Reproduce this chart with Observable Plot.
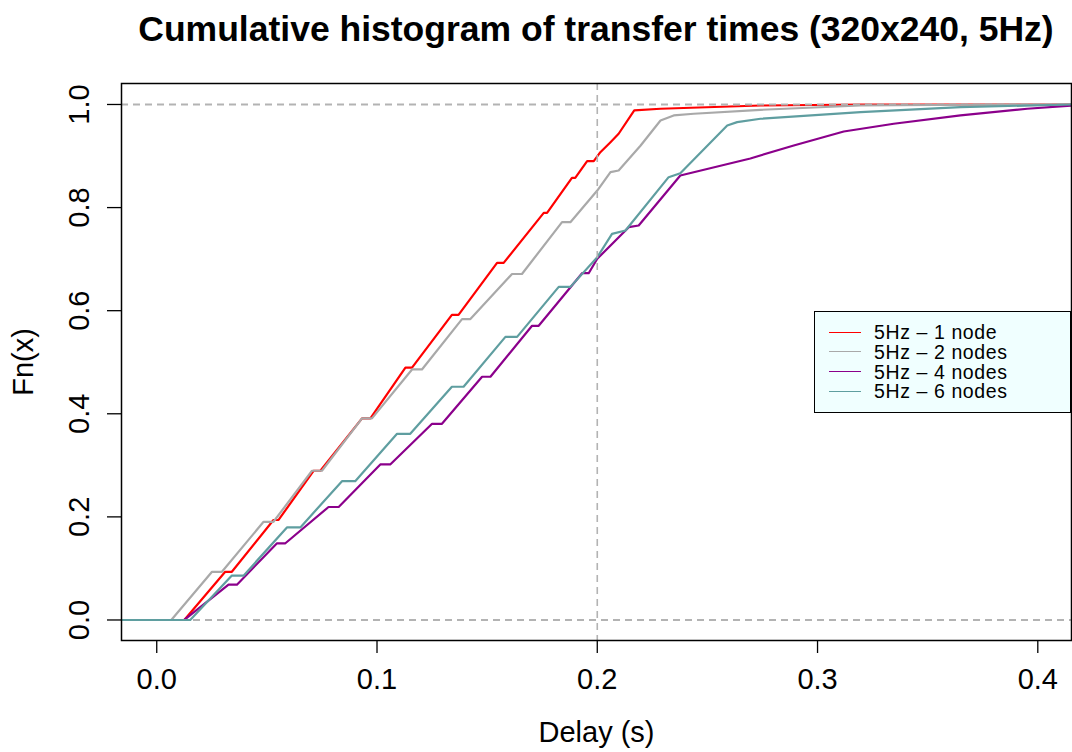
<!DOCTYPE html>
<html>
<head>
<meta charset="utf-8">
<script src="https://cdn.jsdelivr.net/npm/d3@7"></script>
<script src="https://cdn.jsdelivr.net/npm/@observablehq/plot@0.6"></script>
<style>
  body { margin: 0; background: #fff; font-family: "Liberation Sans", Arial, Helvetica, sans-serif; }
  #wrap { position: relative; width: 1072px; height: 752px; }
  #title { position: absolute; left: 121px; top: 0; width: 950px; height: 58px; line-height: 58px;
           text-align: center; font-weight: bold; font-size: 35.5px; color: #000; white-space: nowrap; }
  #chart { position: absolute; left: 0; top: 60px; }
  #legend { position: absolute; left: 814px; top: 311px; width: 255px; height: 100px;
            background: #F0FFFF; border: 1px solid #000; }
  .sw { position: absolute; left: 14px; width: 32px; height: 0; border-top: 1.6px solid; }
  .lt { position: absolute; left: 59px; height: 19px; line-height: 19px; font-size: 19.5px; letter-spacing: 0.6px; color: #000; white-space: nowrap; }
</style>
</head>
<body>
<div id="wrap">
  <div id="title">Cumulative histogram of transfer times (320x240, 5Hz)</div>
  <div id="chart"></div>
  <div id="legend"></div>
</div>
<script>
// ---- Data ----
const seriesNames = ["5Hz – 1 node", "5Hz – 2 nodes", "5Hz – 4 nodes", "5Hz – 6 nodes"];
const seriesColors = ["#FF0000", "#A9A9A9", "#8B008B", "#5F9EA0"];

const node1X = [-0.016, 0.0125, 0.0311, 0.0341, 0.0530, 0.0553, 0.0712, 0.0743, 0.0932, 0.0970, 0.1129, 0.1159, 0.1340, 0.1370, 0.1545, 0.1575, 0.1757, 0.1772, 0.1885, 0.1900, 0.1954, 0.1984, 0.2014, 0.2060, 0.2097, 0.2168, 0.2287, 0.2741, 0.32, 0.4153];
const node1Y = [0, 0, 0.0935, 0.0935, 0.194, 0.194, 0.2895, 0.2895, 0.391, 0.391, 0.4896, 0.4896, 0.592, 0.592, 0.6927, 0.6927, 0.7897, 0.7897, 0.8578, 0.8578, 0.890, 0.890, 0.9075, 0.9269, 0.9432, 0.9884, 0.9917, 0.998, 1.0, 1.0];

const node2X = [-0.016, 0.0066, 0.0251, 0.0296, 0.0485, 0.0530, 0.0705, 0.0750, 0.0932, 0.0977, 0.1159, 0.1204, 0.1386, 0.1424, 0.1613, 0.1658, 0.1840, 0.1878, 0.2000, 0.2060, 0.2097, 0.2196, 0.2287, 0.2347, 0.2438, 0.2741, 0.3195, 0.37, 0.4153];
const node2Y = [0, 0, 0.0935, 0.0935, 0.1905, 0.1905, 0.2895, 0.2895, 0.391, 0.391, 0.486, 0.486, 0.5837, 0.5837, 0.6712, 0.6712, 0.7717, 0.7717, 0.833, 0.8687, 0.872, 0.920, 0.969, 0.9787, 0.982, 0.9897, 0.998, 0.9995, 1.0];

const node4X = [-0.016, 0.0125, 0.0326, 0.0364, 0.0546, 0.0584, 0.0780, 0.0826, 0.1015, 0.1060, 0.1250, 0.1295, 0.1477, 0.1515, 0.1704, 0.1734, 0.1931, 0.1961, 0.2000, 0.2143, 0.2188, 0.2377, 0.2695, 0.2892, 0.3119, 0.3346, 0.3649, 0.3952, 0.4153];
const node4Y = [0, 0, 0.0685, 0.0685, 0.1488, 0.1488, 0.2192, 0.2192, 0.3017, 0.3017, 0.3806, 0.3806, 0.4718, 0.4718, 0.5707, 0.5707, 0.6727, 0.6727, 0.7007, 0.762, 0.7653, 0.8623, 0.8953, 0.9205, 0.9476, 0.9626, 0.9787, 0.9917, 0.998];

const node6X = [-0.016, 0.0152, 0.0340, 0.0394, 0.0591, 0.0652, 0.0841, 0.0901, 0.1091, 0.1151, 0.1340, 0.1393, 0.1583, 0.1636, 0.1825, 0.1878, 0.2000, 0.2067, 0.2128, 0.2324, 0.2377, 0.2590, 0.2635, 0.2741, 0.3195, 0.3649, 0.4153];
const node6Y = [0, 0, 0.086, 0.086, 0.1796, 0.1796, 0.2693, 0.2693, 0.3612, 0.3612, 0.4524, 0.4524, 0.5492, 0.5492, 0.6462, 0.6462, 0.7038, 0.749, 0.7556, 0.859, 0.8667, 0.9593, 0.9657, 0.9723, 0.985, 0.9948, 1.0];

const xTicks = [0.0, 0.1, 0.2, 0.3, 0.4];
const yTicks = [0.0, 0.2, 0.4, 0.6, 0.8, 1.0];
const refLinesY = [0, 1];
const refLineX = [0.2];

// ---- Build tables ----
const allX = [node1X, node2X, node4X, node6X];
const allY = [node1Y, node2Y, node4Y, node6Y];
const tables = allX.map((xs, i) => xs.map((x, j) => ({x, y: allY[i][j], s: seriesNames[i]})));

const font = '"Liberation Sans", Arial, Helvetica, sans-serif';
const fmt = d3.format(".1f");

const lineMark = (i) => Plot.line(tables[i], {x: "x", y: "y", stroke: seriesColors[i], strokeWidth: 2.2, curve: "linear", clip: true});

const chart = Plot.plot({
  width: 1072,
  height: 692,
  marginTop: 23,
  marginBottom: 112,
  marginLeft: 121,
  marginRight: 1,
  style: {fontFamily: font, fontSize: "29px", color: "#000", background: "transparent"},
  x: {domain: [-0.016, 0.4153]},
  y: {domain: [-0.0398, 1.0407]},
  marks: [
    lineMark(0),
    Plot.ruleY(refLinesY, {stroke: "#B3B3B3", strokeWidth: 2, strokeDasharray: "7,5"}),
    lineMark(1),
    lineMark(2),
    lineMark(3),
    Plot.ruleX(refLineX, {stroke: "#B3B3B3", strokeWidth: 1.6, strokeDasharray: "7,5"}),
    Plot.frame({stroke: "#000", strokeWidth: 1.5}),
    Plot.axisX({ticks: xTicks, tickFormat: fmt, tickSize: 13, tickPadding: 15, label: null, fontSize: 29, strokeWidth: 1.3}),
    Plot.axisY({ticks: yTicks, tickFormat: () => "", tickSize: 14, label: null, strokeWidth: 1.3}),
    Plot.text(yTicks, {y: d => d, text: d => fmt(d), frameAnchor: "left", textAnchor: "middle", lineAnchor: "middle", dx: -41.5, rotate: -90, fontSize: 29, fill: "#000"}),
    Plot.text(["Fn(x)"], {text: d => d, frameAnchor: "left", textAnchor: "middle", lineAnchor: "middle", dx: -97.5, rotate: -90, fontSize: 29, fill: "#000"}),
    Plot.text(["Delay (s)"], {text: d => d, frameAnchor: "bottom", textAnchor: "middle", lineAnchor: "middle", dy: 92, fontSize: 29, fill: "#000"})
  ]
});
document.getElementById("chart").appendChild(chart);

// ---- Legend ----
const legend = document.getElementById("legend");
const rowCenters = [20.7, 40.4, 60.1, 79.8];
seriesNames.forEach((name, i) => {
  const sw = document.createElement("div");
  sw.className = "sw";
  sw.style.top = (rowCenters[i] - 1) + "px";
  sw.style.borderTopColor = seriesColors[i];
  legend.appendChild(sw);
  const t = document.createElement("div");
  t.className = "lt";
  t.style.top = (rowCenters[i] - 9.5) + "px";
  t.textContent = name;
  legend.appendChild(t);
});
</script>
</body>
</html>
